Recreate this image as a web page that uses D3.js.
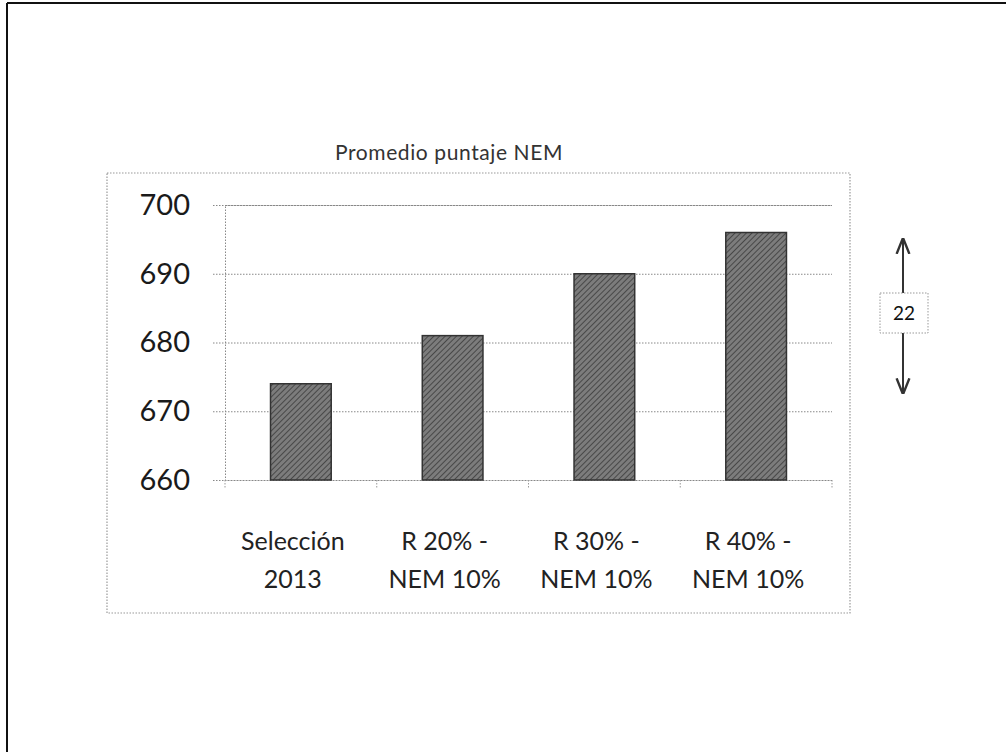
<!DOCTYPE html>
<html>
<head>
<meta charset="utf-8">
<script src="https://cdn.jsdelivr.net/npm/d3@7"></script>
<style>
  html, body { margin: 0; padding: 0; background: #fff; }
  svg { display: block; }
</style>
</head>
<body>
<svg id="chart" width="1006" height="752"></svg>
<script>
const categories = [["Selección", "2013"], ["R 20% -", "NEM 10%"], ["R 30% -", "NEM 10%"], ["R 40% -", "NEM 10%"]];
const values = [674, 681, 690, 696];
const yTicks = [660, 670, 680, 690, 700];
const title = "Promedio puntaje NEM";

const svg = d3.select("#chart");
const font = "Lato, 'Open Sans', sans-serif";

// page border (scanned document edge)
svg.append("line").attr("x1", 7).attr("x2", 1006).attr("y1", 3).attr("y2", 3)
  .attr("stroke", "#111").attr("stroke-width", 2);
svg.append("line").attr("x1", 7).attr("x2", 7).attr("y1", 3).attr("y2", 752)
  .attr("stroke", "#111").attr("stroke-width", 2);

// title
svg.append("text").attr("x", 449).attr("y", 160).attr("text-anchor", "middle")
  .attr("font-family", font).attr("font-size", 21).attr("letter-spacing", 0.6).attr("fill", "#333").text(title);

// chart box
svg.append("rect").attr("x", 107).attr("y", 173).attr("width", 743).attr("height", 440)
  .attr("fill", "none").attr("stroke", "#999").attr("stroke-width", 1.2).attr("stroke-dasharray", "1.5,1.5");

const m = { left: 225, right: 832, top: 205, bottom: 480 };
const x = d3.scaleBand().domain(d3.range(categories.length)).range([m.left, m.right]).paddingInner(0.6).paddingOuter(0.3);
const y = d3.scaleLinear().domain([660, 700]).range([m.bottom, m.top]);

// pattern for bars
const defs = svg.append("defs");
const pat = defs.append("pattern").attr("id", "hatch").attr("patternUnits", "userSpaceOnUse")
  .attr("width", 4).attr("height", 4).attr("patternTransform", "rotate(45)");
pat.append("rect").attr("width", 4).attr("height", 4).attr("fill", "#7c7c7c");
pat.append("line").attr("x1", 0).attr("y1", 0).attr("x2", 0).attr("y2", 4).attr("stroke", "#3a3a3a").attr("stroke-width", 1.6);

// gridlines + y ticks
const yAxis = d3.axisLeft(y).tickValues(yTicks).tickSize(-(m.right - m.left)).tickPadding(20);
const gy = svg.append("g").attr("transform", `translate(${m.left},0)`).call(yAxis);
gy.select(".domain").attr("stroke", "#888").attr("stroke-dasharray", "1.5,1.5");
gy.selectAll(".tick line").attr("stroke", "#888").attr("stroke-dasharray", "1.5,1.5").attr("x1", -12);
gy.selectAll(".tick text").attr("font-family", font).attr("font-size", 29).attr("fill", "#1a1a1a").attr("x", -35);

// category boundary ticks
const bounds = d3.range(categories.length + 1).map(i => m.left + i * (m.right - m.left) / categories.length);
svg.selectAll(".ctick").data(bounds).enter().append("line")
  .attr("x1", d => d).attr("x2", d => d).attr("y1", m.bottom).attr("y2", m.bottom + 8)
  .attr("stroke", "#999").attr("stroke-dasharray", "1.5,1.5");

// bars
svg.selectAll(".bar").data(values).enter().append("rect")
  .attr("x", (d, i) => x(i)).attr("width", x.bandwidth())
  .attr("y", d => y(d)).attr("height", d => y(660) - y(d))
  .attr("fill", "url(#hatch)").attr("stroke", "#333").attr("stroke-width", 1.5);

// category labels
const labels = svg.selectAll(".cat").data(categories).enter().append("text")
  .attr("text-anchor", "middle").attr("font-family", font).attr("font-size", 25).attr("fill", "#222");
labels.each(function(d, i) {
  const t = d3.select(this);
  const cx = x(i) + x.bandwidth() / 2 - 8;
  d.forEach((line, j) => {
    t.append("tspan").attr("x", cx).attr("y", 550 + j * 38).text(line);
  });
});

// difference annotation
const diff = d3.max(values) - d3.min(values);
const ax = 903;
const yTop = y(d3.max(values)) + 7, yBot = y(d3.min(values)) + 9;
defs.append("marker").attr("id", "arr").attr("viewBox", "0 0 10 10").attr("refX", 9).attr("refY", 5)
  .attr("markerWidth", 8).attr("markerHeight", 8).attr("orient", "auto-start-reverse")
  .append("path").attr("d", "M0,1 L10,5 L0,9").attr("fill", "none").attr("stroke", "#333").attr("stroke-width", 1.5);
svg.append("line").attr("x1", ax).attr("x2", ax).attr("y1", 293).attr("y2", yTop)
  .attr("stroke", "#333").attr("stroke-width", 2).attr("marker-end", "url(#arr)");
svg.append("line").attr("x1", ax).attr("x2", ax).attr("y1", 333).attr("y2", yBot)
  .attr("stroke", "#333").attr("stroke-width", 2).attr("marker-end", "url(#arr)");
svg.append("rect").attr("x", 880).attr("y", 293).attr("width", 48).attr("height", 40)
  .attr("fill", "#fff").attr("stroke", "#999").attr("stroke-dasharray", "1.5,1.5");
svg.append("text").attr("x", 904).attr("y", 320).attr("text-anchor", "middle")
  .attr("font-family", font).attr("font-size", 19).attr("fill", "#111").text(diff);
</script>
</body>
</html>
